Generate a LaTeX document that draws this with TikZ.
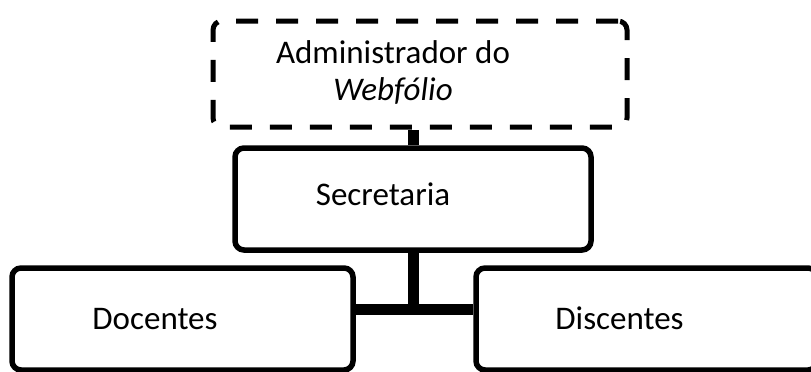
\documentclass[tikz,border=0pt]{standalone}
\usepackage{fontspec}
\setmainfont{Carlito}
\usepackage{tikz}
\usetikzlibrary{calc}
\usetikzlibrary{positioning}
\begin{document}
\begin{tikzpicture}[x=1pt, y=-1pt]
 	  \tikzstyle{box}=[draw=black, fill=white, rectangle, rounded corners=9pt, line width=5.5pt, inner sep=0pt]
 	  \tikzstyle{dashbox}=[box, line width=5pt, dash pattern=on 22pt off 18pt]
 	  \tikzstyle{link}=[line width=11pt]
 	  \tikzstyle{txt}=[font=\fontsize{33}{37}\selectfont, anchor=base, inner sep=0pt, align=center]
\useasboundingbox (0,0) rectangle (811,372);
    \node[dashbox, minimum width=414pt, minimum height=106pt] (adm) at (420,74) {};
    \node[box, minimum width=356pt, minimum height=102pt] (sec) at (413,199) {};
    \node[box, minimum width=341pt, minimum height=102pt] (doc) at (182.5,319) {};
    \node[box, minimum width=341pt, minimum height=102pt] (dis) at (646.5,319) {};
    \node[txt] (adm_t) at (393,63) {Administrador do};
    \node[txt] (adm_w) at (393,100) {\textit{Webfólio}};
    \node[txt] (sec_t) at (383,205) {Secretaria};
    \node[txt] (doc_t) at (155,329) {Docentes};
    \node[txt] (dis_t) at (619.5,329) {Discentes};
         \draw[link] (sec.north) -- (sec.north |- adm.south);
         \draw[link] (sec.south) -- ++(0,57) coordinate (jn);
         \draw[link] (jn -| doc.east) -- (jn -| dis.west);
   \end{tikzpicture}
\end{document}
